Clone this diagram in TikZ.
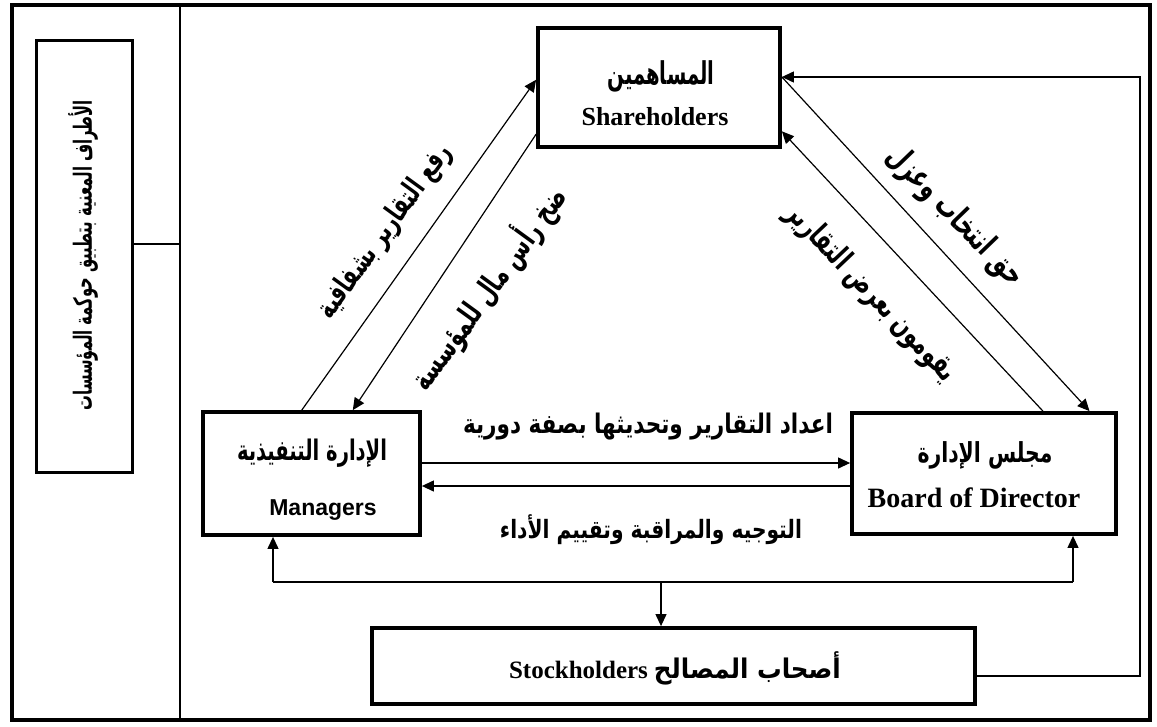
\documentclass[tikz,border=0pt]{standalone}
\usepackage{fontspec}
\usepackage{graphicx}
\usetikzlibrary{arrows.meta,calc}
\setmainfont{Liberation Serif}
\newfontfamily\arfont[Script=Arabic]{DejaVu Sans}
\newfontfamily\latsans{Liberation Sans}
\TeXXeTstate=1
% Arabic label: fitted to a width (#1), then stretched vertically by #2
\newcommand\arfit[3]{\scalebox{1}[#2]{\resizebox{#1}{!}{\arfont\bfseries #3}}}

\begin{document}
\begin{tikzpicture}[x=1pt,y=-1pt,
  box/.style={draw, line width=3.8pt, inner sep=0pt},
  conn/.style={line width=1.2pt},
  arr/.style={conn, -{Triangle[length=12pt,width=11pt]}},
  lbl/.style={inner sep=0pt},
  serifbig/.style={inner sep=0pt, font=\bfseries\fontsize{#1}{#1}\selectfont}]

\useasboundingbox (0,0) rectangle (1157,726);

% frame and divider
\draw[line width=4pt] (12,5) rectangle (1150,720);
\draw[line width=1.5pt] (180,5) -- (180,720);

% side panel
\node[box, line width=3pt, minimum width=96pt, minimum height=432pt] (side) at (84,256) {};
\node[lbl, rotate=90] (sidetxt) at (83,255) {\arfit{310pt}{1.7}{\beginR الأطراف المعنية بتطبيق حوكمة المؤسسات\endR}};
\coordinate (dv) at (180,244);
\draw[conn] (side.east |- dv) -- (dv);

% shareholders
\node[box, minimum width=242pt, minimum height=119pt] (sh) at (659,87.5) {};
\node[lbl] (sh-ar) at (661,76) {\arfit{107pt}{1.6}{\beginR المساهمين\endR}};
\node[serifbig=26, anchor=base] (sh-en) at (655,125) {Shareholders};

% managers
\node[box, minimum width=217pt, minimum height=123pt] (mg) at (311.5,473.5) {};
\node[lbl] (mg-ar) at (312,453) {\arfit{150pt}{1.45}{\beginR الإدارة التنفيذية\endR}};
\node[lbl, anchor=base, font=\latsans\bfseries\fontsize{23}{23}\selectfont] (mg-en) at (323,515) {Managers};

% board
\node[box, minimum width=264pt, minimum height=121pt] (bd) at (984,473.5) {};
\node[lbl] (bd-ar) at (985,455) {\arfit{135pt}{1.35}{\beginR مجلس الإدارة\endR}};
\node[serifbig=28, anchor=base] (bd-en) at (974,507) {Board of Director};

% stakeholders
\node[box, minimum width=603pt, minimum height=76pt] (sk) at (673.5,666) {};
\node[lbl, anchor=base] (sk-txt) at (675,678) {{\bfseries\fontsize{25}{25}\selectfont Stockholders}\hspace{6pt}\arfit{187pt}{1.1}{\beginR أصحاب المصالح\endR}};

% managers <-> board
\coordinate (hu) at (0,463);
\coordinate (hl) at (0,486);
\draw[arr] (mg.east |- hu) -- (bd.west |- hu);
\draw[arr] (bd.west |- hl) -- (mg.east |- hl);
\node[lbl] (l-up) at (648,427) {\arfit{370pt}{1.25}{\beginR اعداد التقارير وتحديثها بصفة دورية\endR}};
\node[lbl] (l-dn) at (651,530) {\arfit{302pt}{1.25}{\beginR التوجيه والمراقبة وتقييم الأداء\endR}};

% right loop from stakeholders to shareholders
\coordinate (rl) at (1140,676);
\coordinate (rt) at (1140,77);
\draw[arr] (sk.east |- rl) -- (rl) -- (rt) -- (sh.east |- rt);

% diagonals
\draw[arr] ($(mg.north west)!0.456!(mg.north east)$) -- ($(sh.north west)!0.437!(sh.south west)$);
\draw[arr] ($(sh.north west)!0.88!(sh.south west)$) -- ($(mg.north west)!0.687!(mg.north east)$);
\draw[arr] (sh.east |- rt) -- ($(bd.north west)!0.894!(bd.north east)$);
\draw[arr] ($(bd.north west)!0.72!(bd.north east)$) -- ($(sh.north east)!0.857!(sh.south east)$);
\node[lbl, rotate=54] (d1) at (385,232) {\arfit{208pt}{1.5}{\beginR رفع التقارير بشفافية\endR}};
\node[lbl, rotate=54] (d2) at (488,288) {\arfit{242pt}{1.5}{\beginR ضخ رأس مال للمؤسسة\endR}};
\node[lbl, rotate=-46] (d3) at (955,217) {\arfit{182pt}{1.5}{\beginR حق انتخاب وعزل\endR}};
\node[lbl, rotate=-46.5] (d4) at (871,293) {\arfit{233pt}{1.5}{\beginR يقومون بعرض التقارير\endR}};

% bottom bus to stakeholders
\coordinate (busL) at (273,582);
\coordinate (busR) at (1073,582);
\coordinate (busM) at (661,582);
\draw[conn] (busL) -- (busR);
\draw[arr] (busL) -- (mg.south -| busL);
\draw[arr] (busR) -- (bd.south -| busR);
\draw[arr] (busM) -- (sk.north -| busM);
\end{tikzpicture}
\end{document}
